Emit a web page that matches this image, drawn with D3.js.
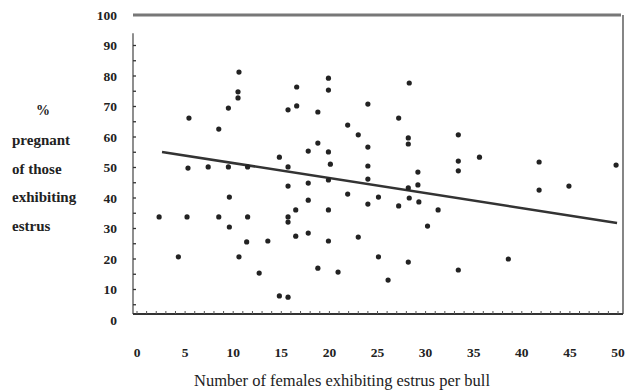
<!DOCTYPE html>
<html>
<head>
<meta charset="utf-8">
<script src="https://cdn.jsdelivr.net/npm/d3@7"></script>
<style>
  body { margin: 0; background: white; }
  svg { display: block; }
</style>
</head>
<body>
<script>
// females exhibiting estrus per bull (x) vs % pregnant of those (y)
const females = [
  10.6, 10.5, 10.5, 9.5, 5.4, 8.5, 15.7, 16.6, 16.6, 14.8,
  5.3, 7.4, 9.5, 11.5, 15.7, 15.7, 19.9, 19.9, 18.8, 24.0,
  21.9, 23.0, 28.3, 27.2, 18.8, 17.8, 19.9, 20.1, 24.0, 24.0,
  24.0, 28.2, 28.2, 33.4, 33.4, 33.4, 29.2, 29.2, 17.8, 19.9,
  28.2, 35.6, 41.8, 49.8, 44.9, 41.8, 2.3, 5.2, 8.5, 9.6,
  9.6, 11.5, 16.5, 15.7, 15.7, 16.5, 4.3, 11.4, 13.6, 10.6,
  12.7, 14.8, 15.7, 17.8, 21.9, 19.9, 24.0, 25.1, 27.2, 28.3,
  29.3, 31.3, 30.2, 17.8, 19.9, 23.0, 25.1, 28.2, 18.8, 20.9,
  26.1, 33.4, 38.6
];
const pregnant = [
  81.3, 74.8, 72.8, 69.5, 66.2, 62.6, 68.9, 76.4, 70.2, 53.4,
  49.8, 50.2, 50.2, 50.2, 50.2, 43.9, 79.3, 75.4, 68.2, 70.8,
  63.9, 60.7, 77.7, 66.2, 58.0, 55.4, 55.1, 51.1, 56.7, 50.5,
  46.2, 59.7, 57.7, 60.7, 52.1, 48.9, 48.5, 44.3, 44.9, 45.9,
  43.3, 53.4, 51.8, 50.8, 43.9, 42.6, 33.8, 33.8, 33.8, 40.3,
  30.5, 33.8, 36.1, 33.8, 32.1, 27.5, 20.7, 25.6, 25.9, 20.7,
  15.4, 7.9, 7.5, 39.3, 41.3, 36.1, 38.0, 40.3, 37.4, 40.0,
  38.7, 36.1, 30.8, 28.5, 25.9, 27.2, 20.7, 19.0, 17.0, 15.7,
  13.1, 16.4, 20.0
];
// fitted line end points
const fitX = [2.6, 49.9];
const fitY = [55.1, 31.8];

const xTicks = [0, 5, 10, 15, 20, 25, 30, 35, 40, 45, 50];
const yTicks = [0, 10, 20, 30, 40, 50, 60, 70, 80, 90, 100];
const yTitle = ['pregnant', 'of those', 'exhibiting', 'estrus'];
const xTitle = 'Number of females exhibiting estrus per bull';

const width = 628;
const height = 391;
const frame = { left: 133, right: 623, top: 15, bottom: 314 };

const x = d3.scaleLinear().domain([0, 50]).range([137, 618]);
const y = d3.scaleLinear().domain([0, 100]).range([320, 15]);

const svg = d3.select('body').append('svg')
  .attr('width', width)
  .attr('height', height)
  .attr('viewBox', [0, 0, width, height])
  .style('font-family', '"Liberation Serif", "DejaVu Serif", serif')
  .attr('fill', '#222');

// top border (thick, greyish)
svg.append('line')
  .attr('x1', frame.left).attr('x2', frame.right - 2)
  .attr('y1', frame.top).attr('y2', frame.top)
  .attr('stroke', '#777').attr('stroke-width', 3);

// right border
svg.append('line')
  .attr('x1', frame.right).attr('x2', frame.right)
  .attr('y1', frame.top).attr('y2', frame.bottom)
  .attr('stroke', '#444').attr('stroke-width', 1.3);

// left axis
svg.append('line')
  .attr('x1', frame.left).attr('x2', frame.left)
  .attr('y1', y(94)).attr('y2', frame.bottom)
  .attr('stroke', '#444').attr('stroke-width', 1.2);

svg.append('g')
  .selectAll()
  .data(d3.range(5, 95, 5))
  .join('line')
  .attr('x1', frame.left).attr('x2', frame.left + 3)
  .attr('y1', (d) => y(d)).attr('y2', (d) => y(d))
  .attr('stroke', '#333').attr('stroke-width', 1.3);

// bottom axis
svg.append('line')
  .attr('x1', frame.left).attr('x2', frame.right)
  .attr('y1', frame.bottom).attr('y2', frame.bottom)
  .attr('stroke', '#333').attr('stroke-width', 2);

svg.append('g')
  .selectAll()
  .data(d3.range(0, 51, 1))
  .join('line')
  .attr('x1', (d) => x(d)).attr('x2', (d) => x(d))
  .attr('y1', frame.bottom).attr('y2', frame.bottom - 3)
  .attr('stroke', '#555').attr('stroke-width', 1);

// tick labels
svg.append('g')
  .selectAll()
  .data(yTicks)
  .join('text')
  .attr('x', 117)
  .attr('y', (d) => y(d))
  .attr('dy', '0.35em')
  .attr('text-anchor', 'end')
  .attr('font-size', 13.5)
  .attr('font-weight', 'bold')
  .text((d) => d);

svg.append('g')
  .selectAll()
  .data(xTicks)
  .join('text')
  .attr('x', (d) => x(d))
  .attr('y', 352)
  .attr('dy', '0.35em')
  .attr('text-anchor', 'middle')
  .attr('font-size', 13.5)
  .attr('font-weight', 'bold')
  .text((d) => d);

// axis titles
svg.append('text')
  .attr('x', 43).attr('y', 110).attr('dy', '0.35em')
  .attr('text-anchor', 'middle')
  .attr('font-size', 14).attr('font-weight', 'bold')
  .text('%');

svg.append('g')
  .selectAll()
  .data(yTitle)
  .join('text')
  .attr('x', 12)
  .attr('y', (d, i) => 140 + i * 28.5)
  .attr('dy', '0.35em')
  .attr('font-size', 15)
  .attr('font-weight', 'bold')
  .text((d) => d);

svg.append('text')
  .attr('x', 342).attr('y', 380).attr('dy', '0.35em')
  .attr('text-anchor', 'middle')
  .attr('font-size', 16.5)
  .text(xTitle);

// regression line
svg.append('line')
  .attr('x1', x(fitX[0])).attr('y1', y(fitY[0]))
  .attr('x2', x(fitX[1])).attr('y2', y(fitY[1]))
  .attr('stroke', '#333').attr('stroke-width', 2.5);

// points
svg.append('g')
  .selectAll()
  .data(d3.range(females.length))
  .join('circle')
  .attr('cx', (i) => x(females[i]))
  .attr('cy', (i) => y(pregnant[i]))
  .attr('r', 2.6)
  .attr('fill', '#222');
</script>
</body>
</html>
